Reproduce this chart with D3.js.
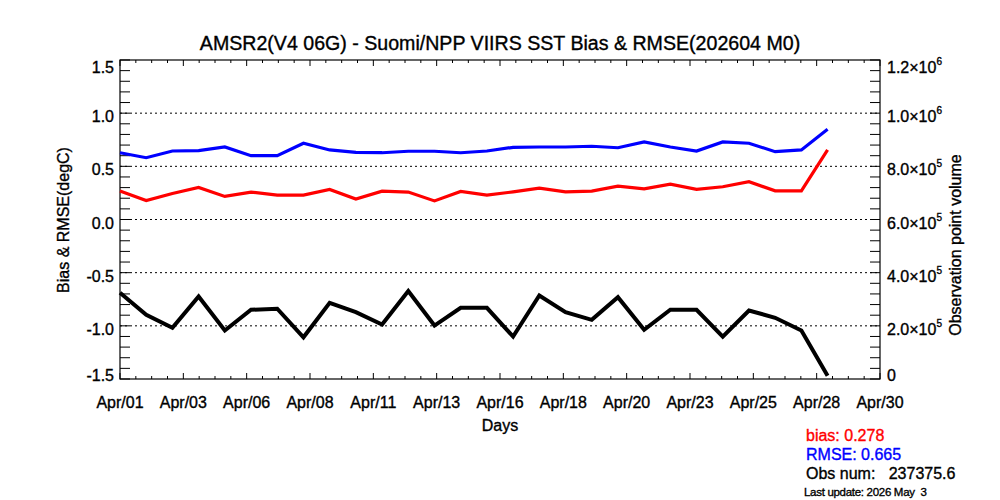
<!DOCTYPE html>
<html><head><meta charset="utf-8">
<script src="https://cdn.jsdelivr.net/npm/d3@7"></script>
<style>
html,body{margin:0;padding:0;background:#fff;}
text{font-family:"Liberation Sans",Arial,Helvetica,sans-serif;stroke-width:0.35px;}
</style></head>
<body><svg id="c" width="1000" height="500"></svg>
<script>
// ---- data ----
const days = [1,2,3,4,5,6,7,8,9,10,11,12,13,14,15,16,17,18,19,20,21,22,23,24,25,26,27,28];
const bias = [0.267,0.179,0.245,0.302,0.217,0.258,0.229,0.229,0.283,0.192,0.267,0.258,0.175,0.264,0.229,0.260,0.295,0.260,0.267,0.314,0.289,0.333,0.283,0.308,0.355,0.270,0.270,0.654];
const rmse = [0.628,0.581,0.644,0.647,0.682,0.600,0.600,0.717,0.654,0.632,0.628,0.642,0.642,0.628,0.644,0.679,0.682,0.682,0.689,0.675,0.729,0.682,0.644,0.729,0.717,0.638,0.654,0.849];
const obsNum = [324500,241500,192500,310600,182300,260400,264200,157000,286800,251300,204900,330600,201100,267900,267900,159600,314300,251300,222600,307900,184900,260400,260400,159600,257700,230200,182300,12500];
const xTickLabels = ["Apr/01","Apr/03","Apr/06","Apr/08","Apr/11","Apr/13","Apr/16","Apr/18","Apr/20","Apr/23","Apr/25","Apr/28","Apr/30"];
const leftTicks = [-1.5,-1.0,-0.5,0.0,0.5,1.0,1.5];
const gridVals = [-1.0,-0.5,0.0,0.5,1.0];
const rightTicks = [0,200000,400000,600000,800000,1000000,1200000];
const rightMant = ["0","2.0","4.0","6.0","8.0","1.0","1.2"];
const rightExp = [null,"5","5","5","5","6","6"];
const titleText = "AMSR2(V4 06G) - Suomi/NPP VIIRS SST Bias & RMSE(202604 M0)";
const legendLines = [["bias: 0.278","#ff0000"],["RMSE: 0.665","#0000ff"],["Obs num:   237375.6","#000000"]];
const updateText = "Last update: 2026 May  3";

// ---- layout ----
const L=120,R=880,T=60,B=379;
const svg=d3.select("#c");
const x=d3.scaleLinear().domain([1,30]).range([L,R]);
const xt=d3.scaleLinear().domain([0,xTickLabels.length-1]).range([L,R]);
const yL=d3.scaleLinear().domain([-1.5,1.5]).range([B,T]);
const yR=d3.scaleLinear().domain([0,1200000]).range([B,T]);
const clampY=v=>Math.min(Math.max(v+9,73),381);

// grid
svg.append("g").selectAll("line").data(gridVals).join("line")
 .attr("x1",L).attr("x2",R).attr("y1",d=>yL(d)).attr("y2",d=>yL(d))
 .attr("stroke","#000").attr("stroke-width",1).attr("stroke-dasharray","2,3");

// frame
svg.append("rect").attr("x",L).attr("y",T).attr("width",R-L).attr("height",B-T)
 .attr("fill","none").attr("stroke","#000").attr("stroke-width",1.2);

// x ticks (bottom & top)
const nMinor=4;
const xMinor=[];
for(let i=0;i<xTickLabels.length-1;i++) for(let j=1;j<nMinor;j++) xMinor.push(i+j/nMinor);
const gx=svg.append("g");
xTickLabels.forEach((lab,i)=>{
  const px=xt(i);
  gx.append("line").attr("x1",px).attr("x2",px).attr("y1",B).attr("y2",B-6).attr("stroke","#000");
  gx.append("line").attr("x1",px).attr("x2",px).attr("y1",T).attr("y2",T+6).attr("stroke","#000");
  gx.append("text").attr("x",px).attr("y",408).attr("text-anchor","middle")
    .attr("font-size",16).attr("stroke","#000").text(lab);
});
xMinor.forEach(v=>{
  const px=xt(v);
  gx.append("line").attr("x1",px).attr("x2",px).attr("y1",B).attr("y2",B-3).attr("stroke","#000");
  gx.append("line").attr("x1",px).attr("x2",px).attr("y1",T).attr("y2",T+3).attr("stroke","#000");
});

// left ticks
const gl=svg.append("g");
for(let v=-1.5;v<=1.5001;v+=0.1){
  gl.append("line").attr("x1",L).attr("x2",L+10).attr("y1",yL(v)).attr("y2",yL(v)).attr("stroke","#000");
}
leftTicks.forEach(v=>{
  gl.append("text").attr("x",L-6).attr("y",clampY(yL(v))).attr("text-anchor","end")
    .attr("font-size",16).attr("stroke","#000").text(v.toFixed(1));
});

// right ticks
const gr=svg.append("g");
for(let v=0;v<=1200001;v+=40000){
  gr.append("line").attr("x1",R).attr("x2",R-10).attr("y1",yR(v)).attr("y2",yR(v)).attr("stroke","#000");
}
rightTicks.forEach((v,i)=>{
  const t=gr.append("text").attr("x",887).attr("y",clampY(yR(v))).attr("font-size",16).attr("stroke","#000");
  if(rightExp[i]===null){ t.text(rightMant[i]); }
  else{
    t.append("tspan").text(rightMant[i]+"\u00d710");
    t.append("tspan").attr("dy",-8).attr("font-size",10).text(rightExp[i]);
  }
});

// lines
const lineL=d3.line().x((d,i)=>x(days[i])).y(d=>yL(d));
const lineR=d3.line().x((d,i)=>x(days[i])).y(d=>yR(d));
svg.append("path").datum(obsNum).attr("d",lineR).attr("fill","none").attr("stroke","#000").attr("stroke-width",4).attr("stroke-linejoin","miter");
svg.append("path").datum(rmse).attr("d",lineL).attr("fill","none").attr("stroke","#0000ff").attr("stroke-width",3.2);
svg.append("path").datum(bias).attr("d",lineL).attr("fill","none").attr("stroke","#ff0000").attr("stroke-width",3.2);

// titles
svg.append("text").attr("x",500).attr("y",50).attr("text-anchor","middle").attr("font-size",19.6).attr("stroke","#000").text(titleText);
svg.append("text").attr("x",500).attr("y",431).attr("text-anchor","middle").attr("font-size",16).attr("stroke","#000").text("Days");
svg.append("text").attr("transform","translate(69,220) rotate(-90)").attr("text-anchor","middle").attr("font-size",16).attr("stroke","#000").text("Bias & RMSE(degC)");
svg.append("text").attr("transform","translate(961,245) rotate(-90)").attr("text-anchor","middle").attr("font-size",16).attr("stroke","#000").text("Observation point volume");

// legend
legendLines.forEach((d,i)=>{
  svg.append("text").attr("x",806).attr("y",441+i*19).attr("font-size",16).attr("fill",d[1]).attr("stroke",d[1])
   .style("white-space","pre").text(d[0]);
});
svg.append("text").attr("x",804).attr("y",496).attr("font-size",11.5).attr("letter-spacing",-0.3).attr("stroke","#000")
  .style("white-space","pre").text(updateText);
</script></body></html>
